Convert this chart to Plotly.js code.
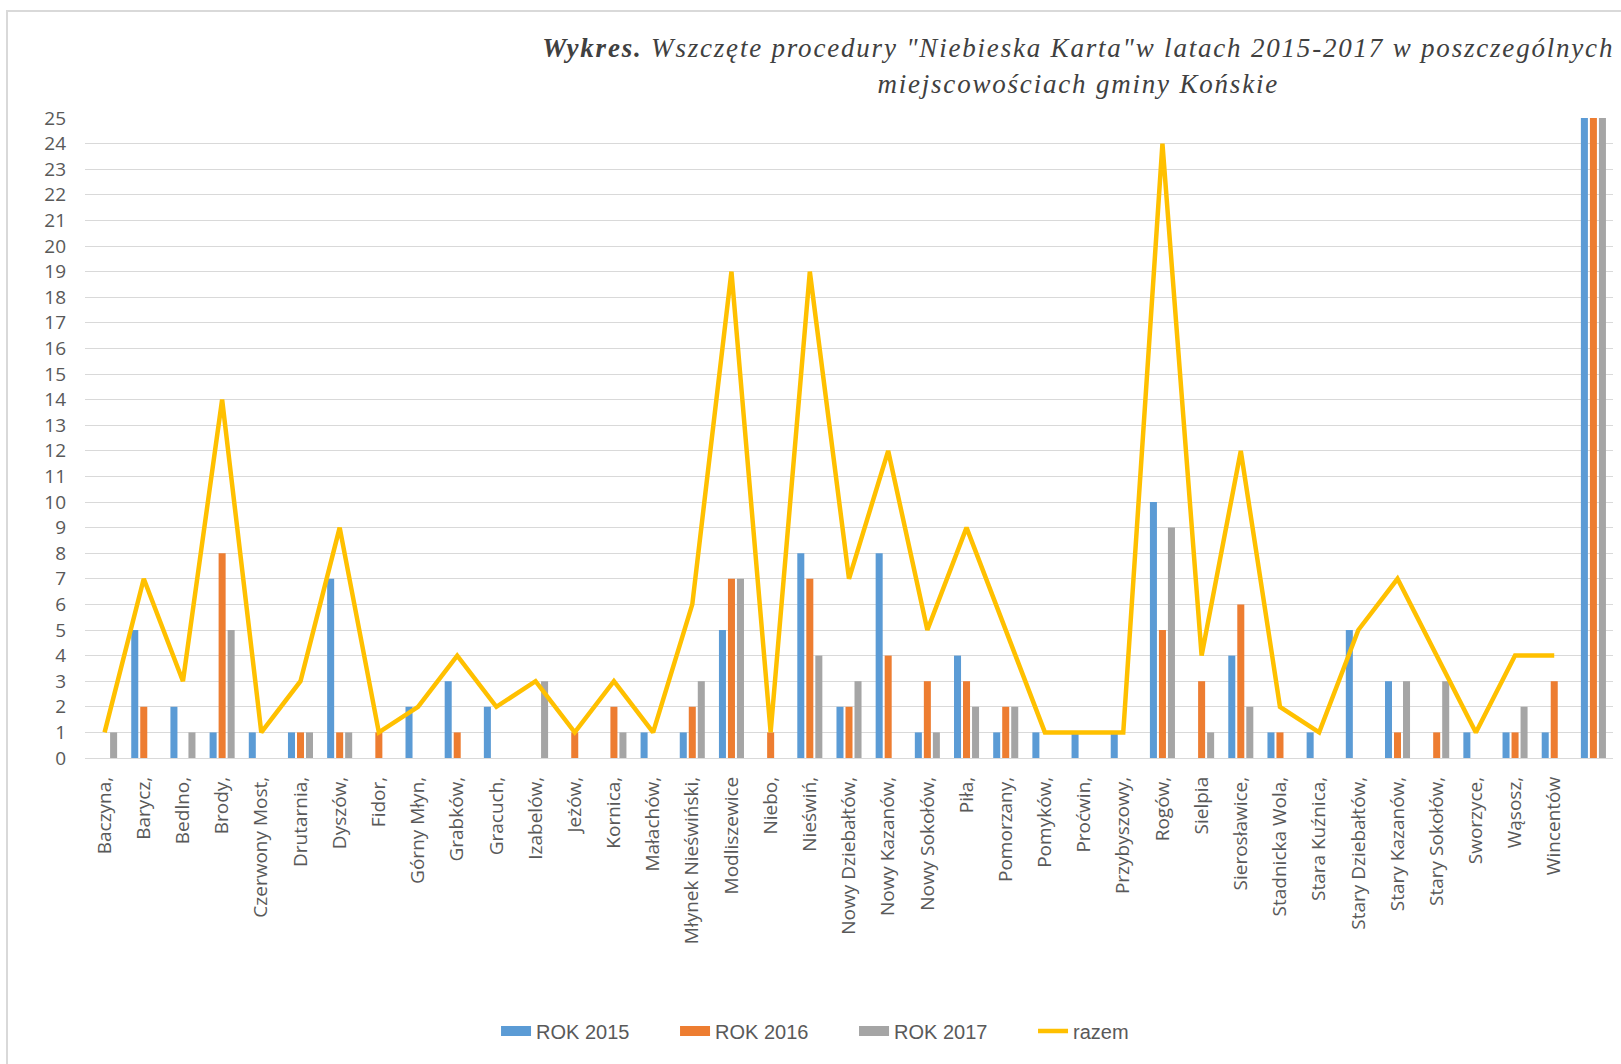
<!DOCTYPE html>
<html>
<head>
<meta charset="utf-8">
<script src="https://cdn.plot.ly/plotly-3.0.1.min.js"></script>
<style>
  html, body { margin: 0; padding: 0; background: #fff; overflow: hidden; }
  #chart { position: absolute; left: 0; top: 0; width: 1621px; height: 1064px; }
  #frame { position: absolute; left: 6px; top: 10px; width: 1700px; height: 1100px;
           border: 2px solid #d9d9d9; pointer-events: none; }
  .gtitle { letter-spacing: 1.8px; }
</style>
</head>
<body>
<div id="chart"></div>
<div id="frame"></div>
<script>
const categories = [
  "Baczyna,", "Barycz,", "Bedlno,", "Brody,", "Czerwony Most,", "Drutarnia,", "Dyszów,",
  "Fidor,", "Górny Młyn,", "Grabków,", "Gracuch,", "Izabelów,", "Jeżów,", "Kornica,",
  "Małachów,", "Młynek Nieświński,", "Modliszewice", "Niebo,", "Nieświń,", "Nowy Dziebałtów,",
  "Nowy Kazanów,", "Nowy Sokołów,", "Piła,", "Pomorzany,", "Pomyków,", "Proćwin,",
  "Przybyszowy,", "Rogów,", "Sielpia", "Sierosławice,", "Stadnicka Wola,", "Stara Kuźnica,",
  "Stary Dziebałtów,", "Stary Kazanów,", "Stary Sokołów,", "Sworzyce,", "Wąsosz,", "Wincentów",
  " "
];
const rok2015 = [0,5,2,1,1,1,7,0,2,3,2,0,0,0,1,1,5,0,8,2,8,1,4,1,1,1,1,10,0,4,1,1,5,3,0,1,1,1,25];
const rok2016 = [0,2,0,8,0,1,1,1,0,1,0,0,1,2,0,2,7,1,7,2,4,3,3,2,0,0,0,5,3,6,1,0,0,1,1,0,1,3,25];
const rok2017 = [1,0,1,5,0,1,1,0,0,0,0,3,0,1,0,3,7,0,4,3,0,1,2,2,0,0,0,9,1,2,0,0,0,3,3,0,2,0,25];
const razem   = [1,7,3,14,1,3,9,1,2,4,2,3,1,3,1,6,19,1,19,7,12,5,9,5,1,1,1,24,4,12,2,1,5,7,4,1,4,4,null];
const seriesNames = ["ROK 2015", "ROK 2016", "ROK 2017", "razem"];
const yTicks = [0,1,2,3,4,5,6,7,8,9,10,11,12,13,14,15,16,17,18,19,20,21,22,23,24,25];

const colors = ["#5B9BD5", "#ED7D31", "#A5A5A5", "#FFC000"];
const barSeries = [rok2015, rok2016, rok2017];

const traces = [];
barSeries.forEach((vals, i) => {
  traces.push({
    type: "bar", x: categories, y: vals, name: seriesNames[i],
    marker: { color: colors[i] }, showlegend: false, legendgroup: "g" + i,
    hoverinfo: "x+y+name"
  });
});
barSeries.forEach((vals, i) => {
  traces.push({
    type: "scatter", mode: "lines", x: [null], y: [null], name: seriesNames[i],
    line: { color: colors[i], width: 12 }, legendgroup: "g" + i, hoverinfo: "skip"
  });
});
traces.push({
  type: "scatter", mode: "lines", x: categories, y: razem, name: seriesNames[3],
  line: { color: colors[3], width: 4.5 }, connectgaps: false, cliponaxis: false
});

const layout = {
  width: 1621, height: 1064,
  margin: { l: 85, r: 8, t: 118, b: 306 },
  paper_bgcolor: "rgba(0,0,0,0)", plot_bgcolor: "#fff",
  title: {
    text: "<b>Wykres.</b> Wszczęte procedury \"Niebieska Karta\"w latach 2015-2017 w poszczególnych<br>miejscowościach gminy Końskie",
    font: { family: "Liberation Serif, Times New Roman, serif", size: 27, color: "#404040", style: "italic" },
    x: 0.65, xanchor: "center", xref: "paper",
    y: 0.946, yanchor: "middle", yref: "container"
  },
  barmode: "group", bargap: 0.31, bargroupgap: 0.22,
  xaxis: {
    type: "category", tickangle: -90, showgrid: false, zeroline: false, showline: false,
    ticks: "", ticklabelstandoff: 14,
    tickfont: { family: "Open Sans, sans-serif", size: 19, color: "#595959" },
    fixedrange: true
  },
  yaxis: {
    range: [0, 25], tickvals: yTicks, ticktext: yTicks.map(String),
    showgrid: true, gridcolor: "#D9D9D9", gridwidth: 1,
    zeroline: true, zerolinecolor: "#D9D9D9", zerolinewidth: 1, showline: false,
    ticks: "", ticklabelstandoff: 18,
    tickfont: { family: "Open Sans, sans-serif", size: 19, color: "#595959" },
    fixedrange: true
  },
  showlegend: true,
  legend: {
    orientation: "h", x: 0.269, xanchor: "left", y: -0.4266, yanchor: "middle",
    font: { family: "Liberation Sans, Arial, sans-serif", size: 20, color: "#595959" },
    itemwidth: 30, entrywidth: 134, traceorder: "normal", bgcolor: "rgba(0,0,0,0)"
  },
  hovermode: "closest"
};

Plotly.newPlot("chart", traces, layout, { displayModeBar: false, staticPlot: true });
</script>
</body>
</html>
